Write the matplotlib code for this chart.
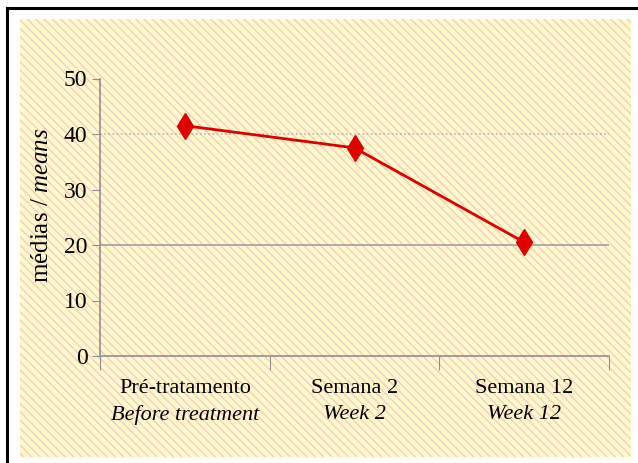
import matplotlib
matplotlib.use("Agg")
import matplotlib.pyplot as plt
from matplotlib.patches import Rectangle
from matplotlib.lines import Line2D

plt.rcParams['font.family'] = ['Liberation Serif', 'DejaVu Serif']
plt.rcParams['mathtext.fontset'] = 'custom'
plt.rcParams['mathtext.rm'] = 'Liberation Serif'
plt.rcParams['mathtext.it'] = 'Liberation Serif:italic'
plt.rcParams['hatch.linewidth'] = 1.1

# mean scores per visit
labels_pt = ["Pré-tratamento", "Semana 2", "Semana 12"]
labels_en = ["Before treatment", "Week 2", "Week 12"]
means = [41.5, 37.5, 20.5]
yticks = [0, 10, 20, 30, 40, 50]

W, H = 638, 463
fig = plt.figure(figsize=(W / 100, H / 100), dpi=100)

# patterned panel and frame
bg = Rectangle((20 / W, 1 - 457 / H), 611 / W, 438 / H, transform=fig.transFigure,
               facecolor='#fffcc8', edgecolor='#ffcaca', linewidth=0,
               hatch='\\\\\\\\', zorder=-5)
fig.patches.append(bg)
fig.add_artist(Line2D([6.5 / W, 1], [1 - 8 / H, 1 - 8 / H], color='black', lw=2.2,
                      transform=fig.transFigure))
fig.add_artist(Line2D([6.5 / W, 6.5 / W], [0, 1 - 8 / H], color='black', lw=2.2,
                      transform=fig.transFigure))

ax = fig.add_axes([100 / W, 1 - 356 / H, 509 / W, 277.5 / H])
ax.set_zorder(2)
ax.patch.set_visible(False)

x = list(range(len(means)))
ax.plot(x, means, color='#e00000', lw=2, marker='d', markersize=13,
        markeredgecolor='#e00000', markerfacecolor='#e00000', zorder=3)

ax.set_xlim(-0.5, len(means) - 0.5)
ax.set_ylim(0, 50)
ax.set_yticks(yticks)
ax.tick_params(axis='y', direction='out', length=6, color='#909090', labelsize=17, pad=3)

# category boundaries carry the ticks, labels sit in the middle
ax.set_xticks([i - 0.5 for i in range(len(means) + 1)])
ax.set_xticklabels([])
ax.tick_params(axis='x', direction='out', length=10, color='#909090')
for i in range(len(means)):
    ax.text(i, -0.118, labels_pt[i], transform=ax.get_xaxis_transform(),
            ha='center', va='center', fontsize=16)
    ax.text(i, -0.211, labels_en[i], transform=ax.get_xaxis_transform(),
            ha='center', va='center', fontsize=16, style='italic')

ax.axhline(20, color='#a0a0a0', lw=1.2, zorder=1)
ax.axhline(40, color='#b0b8b8', lw=1.2, ls=(0, (1, 1.5)), zorder=1)

for side in ['top', 'right']:
    ax.spines[side].set_visible(False)
for side in ['left', 'bottom']:
    ax.spines[side].set_color('#909090')
    ax.spines[side].set_linewidth(1.2)

ax.set_ylabel('médias / $\\mathit{means}$', fontsize=18)
ax.yaxis.set_label_coords(-0.092, 0.544)

fig.savefig('out.png', dpi=100)
